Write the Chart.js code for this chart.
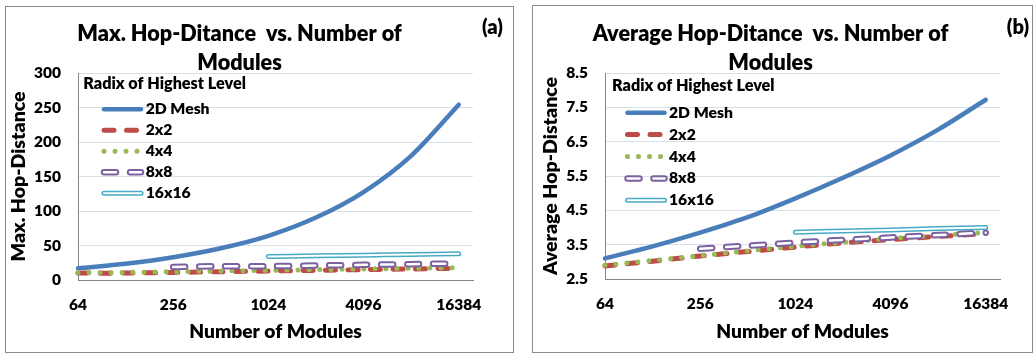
<!DOCTYPE html>
<html>
<head>
<meta charset="utf-8">
<title>Hop-Distance vs. Number of Modules</title>
<script src="https://cdn.jsdelivr.net/npm/chart.js@4"></script>
<style>
  html, body { margin: 0; padding: 0; background: #fff; }
  body { width: 1035px; height: 354px; position: relative; overflow: hidden; }
  .panel { position: absolute; border: 1px solid #8a8a8a; background: #fff; }
  #panel-a { left: 5px; top: 6px; width: 507px; height: 345px; }
  #panel-b { left: 532px; top: 5px; width: 499px; height: 346px; }
  canvas { display: block; }
</style>
</head>
<body>
<div class="panel" id="panel-a"><canvas id="chart-a"></canvas></div>
<div class="panel" id="panel-b"><canvas id="chart-b"></canvas></div>
<script>
// data
const modules = [64, 128, 256, 512, 1024, 2048, 4096, 8192, 16384];
const seriesNames = ['2D Mesh', '2x2', '4x4', '8x8', '16x16'];
const xTickLabels = [64, 256, 1024, 4096, 16384];

// (a) max hop-distance
const maxHopMesh = [17, 23.5, 33, 46, 64, 90.5, 127.5, 180, 254];
const maxHop2x2 = [10, 10, 11, 12, 13, 14, 15, 16, 17];
const maxHop4x4 = [11, 11, 12, 13, 14, 15, 16, 17, 18];
const maxHop8x8 = [null, null, 19, 20, 20, 21, 22, 23, 24];
const maxHop16x16 = [null, null, null, null, 34, 35, 36, 37, 38];
const maxHopTicks = [0, 50, 100, 150, 200, 250, 300];

// (b) average hop-distance
const avgHopMesh = [3.1, 3.45, 3.85, 4.3, 4.85, 5.45, 6.1, 6.85, 7.72];
const avgHop2x2 = [2.88, 3.02, 3.17, 3.3, 3.43, 3.55, 3.65, 3.74, 3.82];
const avgHop4x4 = [2.9, 3.04, 3.18, 3.32, 3.45, 3.57, 3.68, 3.77, 3.85];
const avgHop8x8 = [null, null, 3.38, 3.47, 3.56, 3.64, 3.71, 3.78, 3.85];
const avgHop16x16 = [null, null, null, null, 3.86, 3.9, 3.93, 3.97, 4.0];
const avgHopTicks = [2.5, 3.5, 4.5, 5.5, 6.5, 7.5, 8.5];

const FONT = 'Lato, "Open Sans", sans-serif';
const WEIGHT = '800';
const AXIS = '#868686';
const GRID = '#d8e0ea';

Chart.defaults.font.family = FONT;
Chart.defaults.color = '#000';

// size a font so a string comes out at the width seen in the figure
const measureCtx = document.createElement('canvas').getContext('2d');
function fitSize(text, width) {
  measureCtx.font = WEIGHT + ' 100px ' + FONT;
  return Math.round(1000 * width / measureCtx.measureText(text).width) / 10;
}
const titleSize = fitSize('Max. Hop-Ditance  vs. Number of', 324);
const tickSize = fitSize('16384', 45);
const axisTitleSize = fitSize('Number of Modules', 173);
const yTitleSize = fitSize('Max. Hop-Distance', 170);
const legendTitleSize = fitSize('Radix of Highest Level', 163);
const legendItemSize = fitSize('2D Mesh', 64);
const tagSize = fitSize('(a)', 21);

// line looks (8x8 and 16x16 are hollow: coloured line with a white core)
const seriesStyles = [
  { color: '#4a7ebb', width: 4.5 },
  { color: '#be4b48', width: 5, dash: [10, 12.5] },
  { color: '#98b954', width: 5, dash: [0, 11] },
  { color: '#7d60a0', width: 6.5, dash: [12, 14], inner: 2.5 },
  { color: '#46aac5', width: 5, inner: 2 }
];

function buildDatasets(values) {
  const sets = [];
  values.forEach((vals, i) => {
    const st = seriesStyles[i];
    const pts = [];
    vals.forEach((v, j) => {
      if (v !== null) pts.push({ x: Math.log2(modules[j]), y: v });
    });
    const base = {
      pointRadius: 0, pointHoverRadius: 0, tension: 0.3, clip: false, fill: false,
      borderCapStyle: 'round', borderJoinStyle: 'round', borderDash: st.dash || []
    };
    sets.push(Object.assign({}, base, {
      label: seriesNames[i], data: pts.map(p => ({ ...p })),
      borderColor: st.color, borderWidth: st.width, order: 20 - 2 * i
    }));
    if (st.inner) {
      sets.push(Object.assign({}, base, {
        label: seriesNames[i] + ' core', data: pts.map(p => ({ ...p })),
        borderColor: '#ffffff', borderWidth: st.inner, order: 19 - 2 * i
      }));
    }
  });
  return sets;
}

function strokeSample(ctx, st, x0, x1, y, width, color) {
  ctx.beginPath();
  ctx.lineCap = 'round';
  ctx.lineWidth = width;
  ctx.strokeStyle = color;
  ctx.setLineDash(st.dash || []);
  ctx.moveTo(x0, y);
  ctx.lineTo(x1, y);
  ctx.stroke();
}

// legend sits inside the plot area, plus the (a)/(b) tag
const panelDecor = {
  id: 'panelDecor',
  afterDraw(chart, args, opts) {
    const { ctx, chartArea } = chart;
    const lg = opts.legend;
    const left = chartArea.left, top = chartArea.top;
    ctx.save();
    ctx.fillStyle = '#000';
    ctx.textBaseline = 'middle';
    ctx.textAlign = 'left';
    ctx.font = WEIGHT + ' ' + legendTitleSize + 'px ' + FONT;
    ctx.fillText('Radix of Highest Level', left + lg.titleX, top + lg.titleY);
    ctx.font = WEIGHT + ' ' + legendItemSize + 'px ' + FONT;
    seriesNames.forEach((name, i) => {
      const st = seriesStyles[i];
      const y = top + lg.itemY + i * lg.step;
      strokeSample(ctx, st, left + lg.lineX0, left + lg.lineX1, y, st.width, st.color);
      if (st.inner) strokeSample(ctx, st, left + lg.lineX0, left + lg.lineX1, y, st.inner, '#fff');
      ctx.setLineDash([]);
      ctx.fillText(name, left + lg.textX, y);
    });
    ctx.font = WEIGHT + ' ' + tagSize + 'px ' + FONT;
    ctx.textAlign = 'center';
    ctx.fillText(opts.tag.text, opts.tag.x, opts.tag.y);
    ctx.restore();
  }
};

function makeChart(id, cfg) {
  const tickFont = { family: FONT, size: tickSize, weight: WEIGHT };
  return new Chart(document.getElementById(id), {
    type: 'line',
    data: { datasets: buildDatasets(cfg.values) },
    options: {
      responsive: true,
      maintainAspectRatio: false,
      animation: false,
      events: [],
      layout: { padding: { left: cfg.padLeft, right: cfg.padRight, top: 0, bottom: 0 } },
      plugins: {
        legend: { display: false },
        tooltip: { enabled: false },
        title: {
          display: true, text: cfg.title, color: '#000',
          font: { family: FONT, size: titleSize, weight: WEIGHT, lineHeight: 29 / titleSize },
          padding: { top: cfg.titleTop, bottom: 66 + cfg.topShift - 58 - cfg.titleTop }
        },
        panelDecor: { legend: cfg.legend, tag: cfg.tag }
      },
      scales: {
        x: {
          type: 'linear',
          min: Math.log2(xTickLabels[0]),
          max: 14.3,
          afterBuildTicks: s => { s.ticks = xTickLabels.map(v => ({ value: Math.log2(v) })); },
          afterFit: s => { s.height = cfg.xHeight; },
          grid: { display: true, drawOnChartArea: false, drawTicks: false },
          border: { display: true, color: AXIS, width: 1 },
          ticks: {
            color: '#000', font: tickFont, padding: 16, maxRotation: 0, autoSkip: false,
            callback: v => String(Math.round(Math.pow(2, v)))
          },
          title: {
            display: true, text: 'Number of Modules', color: '#000',
            font: { family: FONT, size: axisTitleSize, weight: WEIGHT, lineHeight: 1.2 },
            padding: { top: 0, bottom: 9 }
          }
        },
        y: {
          type: 'linear',
          min: cfg.yTicks[0],
          max: cfg.yTicks[cfg.yTicks.length - 1],
          afterBuildTicks: s => { s.ticks = cfg.yTicks.map(v => ({ value: v })); },
          afterFit: s => { s.width = 72 - cfg.padLeft; },
          grid: {
            color: c => (c.tick && c.tick.value === cfg.yTicks[0]) ? 'rgba(0,0,0,0)' : GRID,
            drawTicks: false, lineWidth: 1
          },
          border: { display: true, color: AXIS, width: 1 },
          ticks: { color: '#000', font: tickFont, padding: 17, callback: cfg.yFormat },
          title: {
            display: true, text: cfg.yTitle, color: '#000',
            font: { family: FONT, size: yTitleSize, weight: WEIGHT, lineHeight: 1.0 },
            padding: { top: cfg.yTitlePad, bottom: 0 }
          }
        }
      }
    },
    plugins: [panelDecor]
  });
}

makeChart('chart-a', {
  values: [maxHopMesh, maxHop2x2, maxHop4x4, maxHop8x8, maxHop16x16],
  title: ['Max. Hop-Ditance  vs. Number of', 'Modules'],
  titleTop: 12.5, topShift: 0,
  yTitle: 'Max. Hop-Distance',
  yTitlePad: 3,
  yTicks: maxHopTicks,
  yFormat: v => String(v),
  padLeft: 0, padRight: 40, xHeight: 72,
  legend: { titleX: 5.3, titleY: 11, lineX0: 26, lineX1: 63, textX: 67.7, itemY: 36.3, step: 21 },
  tag: { text: '(a)', x: 486.5, y: 21 }
});

makeChart('chart-b', {
  values: [avgHopMesh, avgHop2x2, avgHop4x4, avgHop8x8, avgHop16x16],
  title: ['Average Hop-Ditance  vs. Number of', 'Modules'],
  titleTop: 13.5, topShift: 1,
  yTitle: 'Average Hop-Distance',
  yTitlePad: 0,
  yTicks: avgHopTicks,
  yFormat: v => v.toFixed(1),
  padLeft: 8, padRight: 32, xHeight: 73,
  legend: { titleX: 7, titleY: 13, lineX0: 22.5, lineX1: 59.5, textX: 64, itemY: 39.7, step: 21.9 },
  tag: { text: '(b)', x: 485, y: 22 }
});
</script>
</body>
</html>
